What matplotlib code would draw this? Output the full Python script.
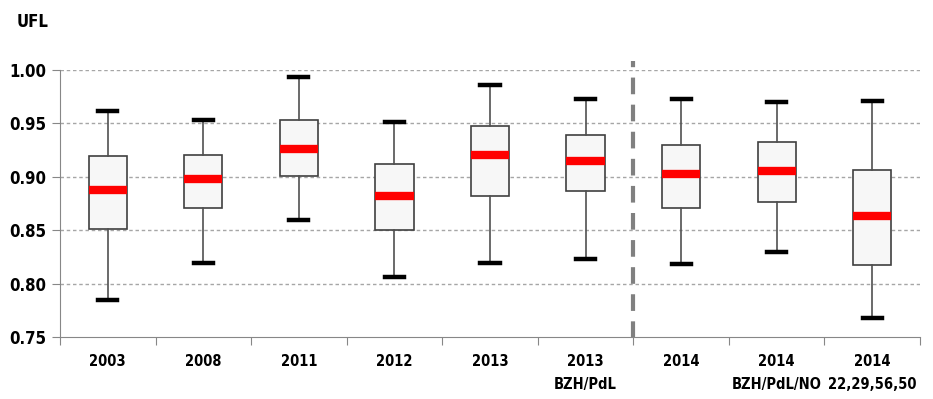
import matplotlib
matplotlib.use("Agg")
import matplotlib.pyplot as plt
from matplotlib import font_manager

# box statistics
labels = ["2003", "2008", "2011", "2012", "2013", "2013\nBZH/PdL",
          "2014", "2014\nBZH/PdL/NO", "2014\n22,29,56,50"]
whislo = [0.785, 0.819, 0.860, 0.806, 0.819, 0.823, 0.818, 0.830, 0.768]
q1 = [0.851, 0.871, 0.901, 0.850, 0.882, 0.887, 0.871, 0.876, 0.817]
med = [0.888, 0.898, 0.926, 0.882, 0.920, 0.915, 0.903, 0.905, 0.863]
q3 = [0.919, 0.920, 0.953, 0.912, 0.948, 0.939, 0.930, 0.933, 0.906]
whishi = [0.962, 0.953, 0.993, 0.951, 0.986, 0.973, 0.973, 0.970, 0.971]

names = sorted({(f.name, f.stretch, f.weight) for f in font_manager.fontManager.ttflist
                if "Narrow" in f.name or "ondensed" in f.name or f.stretch != "normal"})
print(names)

FONT = ["DejaVu Sans"]

stats = []
for i in range(len(labels)):
    stats.append(dict(whislo=whislo[i], q1=q1[i], med=med[i], q3=q3[i],
                      whishi=whishi[i], fliers=[]))

fig = plt.figure(figsize=(9.33, 3.99), dpi=100)
ax = fig.add_axes([0.0643, 0.1554, 0.9217, 0.6692])

pos = list(range(1, len(labels) + 1))
ax.bxp(stats, positions=pos, widths=0.4, showfliers=False, patch_artist=True,
       boxprops=dict(facecolor="#f7f7f7", edgecolor="#404040", linewidth=1.2),
       whiskerprops=dict(color="#505050", linewidth=1.2),
       capprops=dict(color="black", linewidth=3.2),
       medianprops=dict(color="red", linewidth=6, solid_capstyle="butt"),
       capwidths=0.2, zorder=3)

ax.set_xlim(0.5, len(labels) + 0.5)
ax.set_ylim(0.75, 1.00)
ax.set_yticks([0.75, 0.80, 0.85, 0.90, 0.95, 1.00])
ax.set_yticklabels([f"{v:.2f}" for v in ax.get_yticks()],
                   fontfamily=FONT, fontweight="bold", fontsize=12,
                   fontstretch="condensed")

for v in [0.80, 0.85, 0.90, 0.95, 1.00]:
    ax.axhline(v, color="#a6a6a6", linestyle=(0, (2.5, 2)), linewidth=1, zorder=1)

# category labels between boundary ticks
ax.set_xticks([p + 0.5 for p in range(0, len(labels) + 1)])
ax.set_xticklabels([])
ax.tick_params(axis="x", length=6, color="#878787", direction="out")
ax.tick_params(axis="y", length=6, color="#878787", direction="out", pad=4)
for p, lab in zip(pos, labels):
    ax.text(p, -0.065, lab, transform=ax.get_xaxis_transform(), ha="center",
            va="top", fontfamily=FONT, fontweight="bold", fontsize=10.5,
            fontstretch="condensed", linespacing=1.6)

for side in ["top", "right"]:
    ax.spines[side].set_visible(False)
for side in ["left", "bottom"]:
    ax.spines[side].set_color("#878787")

# vertical separator between 2013 and 2014 groups
ax.plot([6.5, 6.5], [0.7495, 1.008], color="#808080", linewidth=3,
        linestyle=(0, (4, 2.5)), clip_on=False, zorder=2)

fig.text(0.018, 0.945, "UFL", fontfamily=FONT, fontweight="bold", fontsize=12,
         fontstretch="condensed", va="center")

fig.savefig("out.png", dpi=100)
